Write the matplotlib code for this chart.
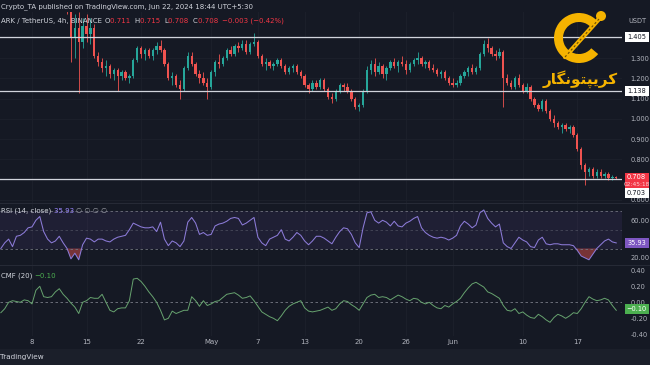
import numpy as np
import pandas as pd
import matplotlib
matplotlib.use('Agg')
import matplotlib.pyplot as plt
import matplotlib.dates as mdates
from matplotlib.patches import Wedge, Rectangle, Circle
from matplotlib.ticker import FormatStrFormatter

# ---------------- data ----------------
candle_start = '2024-04-12 00:00'   # 12h candles (approximation of the 4h chart)
opens = [1.70, 1.65, 1.55, 1.40, 1.45, 1.38, 1.46, 1.42, 1.45, 1.31,
         1.28, 1.25, 1.26, 1.22, 1.24, 1.21, 1.23, 1.20, 1.21, 1.29,
         1.35, 1.32, 1.34, 1.31, 1.34, 1.36, 1.34, 1.27, 1.20, 1.21,
         1.17, 1.15, 1.25, 1.31, 1.27, 1.22, 1.20, 1.18, 1.16, 1.23,
         1.28, 1.27, 1.30, 1.34, 1.32, 1.36, 1.35, 1.37, 1.33, 1.37,
         1.38, 1.31, 1.27, 1.28, 1.26, 1.27, 1.29, 1.26, 1.23, 1.25,
         1.26, 1.23, 1.21, 1.17, 1.15, 1.18, 1.16, 1.19, 1.15, 1.11,
         1.10, 1.14, 1.17, 1.16, 1.14, 1.10, 1.06, 1.07, 1.14, 1.24,
         1.27, 1.23, 1.26, 1.22, 1.25, 1.28, 1.26, 1.28, 1.27, 1.24,
         1.27, 1.29, 1.30, 1.27, 1.28, 1.25, 1.24, 1.22, 1.23, 1.20,
         1.18, 1.17, 1.18, 1.21, 1.23, 1.25, 1.23, 1.25, 1.32, 1.37,
         1.35, 1.32, 1.31, 1.33, 1.20, 1.18, 1.16, 1.20, 1.17, 1.14,
         1.16, 1.10, 1.07, 1.05, 1.09, 1.04, 1.00, 0.98, 0.96, 0.97,
         0.95, 0.96, 0.92, 0.85, 0.77, 0.74, 0.75, 0.72, 0.74, 0.72,
         0.73, 0.71, 0.715]
highs = [1.72, 1.72, 1.60, 1.52, 1.53, 1.50, 1.52, 1.50, 1.47, 1.33,
         1.30, 1.29, 1.27, 1.25, 1.25, 1.24, 1.24, 1.22, 1.30, 1.36,
         1.36, 1.35, 1.35, 1.35, 1.38, 1.39, 1.35, 1.28, 1.23, 1.22,
         1.19, 1.26, 1.33, 1.33, 1.28, 1.24, 1.23, 1.20, 1.24, 1.29,
         1.32, 1.31, 1.35, 1.36, 1.37, 1.38, 1.39, 1.39, 1.38, 1.425,
         1.39, 1.32, 1.30, 1.29, 1.28, 1.30, 1.30, 1.27, 1.26, 1.27,
         1.27, 1.24, 1.22, 1.18, 1.19, 1.19, 1.20, 1.20, 1.16, 1.13,
         1.15, 1.18, 1.18, 1.18, 1.15, 1.11, 1.08, 1.15, 1.26, 1.29,
         1.30, 1.28, 1.27, 1.26, 1.29, 1.30, 1.29, 1.31, 1.29, 1.28,
         1.30, 1.33, 1.31, 1.29, 1.29, 1.27, 1.25, 1.24, 1.24, 1.21,
         1.20, 1.19, 1.22, 1.24, 1.26, 1.27, 1.26, 1.33, 1.39, 1.40,
         1.36, 1.34, 1.35, 1.34, 1.22, 1.19, 1.21, 1.22, 1.18, 1.18,
         1.17, 1.11, 1.08, 1.10, 1.10, 1.05, 1.02, 0.99, 0.98, 0.98,
         0.97, 0.97, 0.93, 0.86, 0.78, 0.76, 0.76, 0.75, 0.75, 0.74,
         0.74, 0.725, 0.72]
lows = [1.60, 1.52, 1.28, 1.30, 1.128, 1.35, 1.38, 1.37, 1.30, 1.26,
        1.23, 1.21, 1.20, 1.19, 1.14, 1.19, 1.19, 1.18, 1.20, 1.28,
        1.30, 1.29, 1.30, 1.29, 1.32, 1.33, 1.26, 1.19, 1.17, 1.16,
        1.10, 1.14, 1.24, 1.26, 1.21, 1.18, 1.17, 1.10, 1.15, 1.21,
        1.25, 1.26, 1.29, 1.31, 1.31, 1.33, 1.34, 1.32, 1.32, 1.36,
        1.30, 1.26, 1.24, 1.25, 1.24, 1.26, 1.25, 1.22, 1.22, 1.23,
        1.22, 1.20, 1.16, 1.13, 1.14, 1.15, 1.15, 1.14, 1.10, 1.078,
        1.09, 1.13, 1.14, 1.13, 1.09, 1.05, 1.04, 1.06, 1.13, 1.22,
        1.21, 1.22, 1.20, 1.19, 1.24, 1.25, 1.23, 1.26, 1.22, 1.23,
        1.26, 1.27, 1.26, 1.25, 1.24, 1.23, 1.21, 1.20, 1.19, 1.17,
        1.16, 1.16, 1.17, 1.20, 1.21, 1.22, 1.22, 1.24, 1.31, 1.33,
        1.31, 1.29, 1.30, 1.06, 1.17, 1.15, 1.15, 1.16, 1.13, 1.13,
        1.09, 1.06, 1.04, 1.04, 1.03, 0.99, 0.96, 0.95, 0.93, 0.94,
        0.93, 0.91, 0.84, 0.75, 0.673, 0.72, 0.71, 0.71, 0.71, 0.71,
        0.70, 0.70, 0.705]
closes = [1.65, 1.55, 1.40, 1.45, 1.38, 1.46, 1.42, 1.45, 1.31, 1.28,
          1.25, 1.26, 1.22, 1.24, 1.21, 1.23, 1.20, 1.21, 1.29, 1.35,
          1.32, 1.34, 1.31, 1.34, 1.36, 1.34, 1.27, 1.20, 1.21, 1.17,
          1.15, 1.25, 1.31, 1.27, 1.22, 1.20, 1.18, 1.16, 1.23, 1.28,
          1.27, 1.30, 1.34, 1.32, 1.36, 1.35, 1.37, 1.33, 1.37, 1.38,
          1.31, 1.27, 1.28, 1.26, 1.27, 1.29, 1.26, 1.23, 1.25, 1.26,
          1.23, 1.21, 1.17, 1.15, 1.18, 1.16, 1.19, 1.15, 1.11, 1.10,
          1.14, 1.17, 1.16, 1.14, 1.10, 1.06, 1.07, 1.14, 1.24, 1.27,
          1.23, 1.26, 1.22, 1.25, 1.28, 1.26, 1.28, 1.27, 1.24, 1.27,
          1.29, 1.30, 1.27, 1.28, 1.25, 1.24, 1.22, 1.23, 1.20, 1.18,
          1.17, 1.18, 1.21, 1.23, 1.25, 1.23, 1.25, 1.32, 1.37, 1.35,
          1.32, 1.31, 1.33, 1.20, 1.18, 1.16, 1.20, 1.17, 1.14, 1.16,
          1.10, 1.07, 1.05, 1.09, 1.04, 1.00, 0.98, 0.96, 0.97, 0.95,
          0.96, 0.92, 0.85, 0.77, 0.74, 0.75, 0.72, 0.74, 0.72, 0.73,
          0.71, 0.715, 0.708]

ind_start = '2024-04-04 00:00'      # indicator samples every 12h
rsi = [30, 36, 40, 32, 43, 44, 47, 52, 53, 60,
       64, 48, 40, 36, 38, 43, 36, 30, 19, 25,
       18, 34, 41, 40, 37, 40, 40, 38, 37, 40,
       42, 43, 44, 50, 57, 55, 53, 52, 52, 53,
       48, 58, 40, 33, 38, 36, 32, 38, 58, 63,
       57, 45, 47, 44, 45, 54, 56, 57, 59, 62,
       63, 62, 55, 57, 60, 63, 42, 36, 33, 40,
       42, 44, 50, 40, 38, 42, 47, 44, 38, 34,
       38, 43, 43, 41, 38, 35, 42, 48, 52, 51,
       45, 36, 31, 52, 68, 69, 60, 57, 60, 58,
       54, 59, 54, 53, 57, 59, 62, 64, 52, 47,
       44, 42, 41, 42, 41, 39, 41, 44, 54, 59,
       56, 52, 55, 68, 71, 62, 57, 53, 56, 36,
       32, 30, 36, 42, 39, 37, 32, 31, 39, 42,
       35, 34, 35, 35, 34, 34, 34, 33, 28, 22,
       20, 18, 24, 30, 34, 38, 40, 37, 35.93]
cmf = [-0.13, -0.08, 0.0, 0.02, 0.01, 0.0, 0.03, 0.02, -0.02, 0.15,
       0.2, 0.07, 0.06, 0.07, 0.13, 0.17, 0.1, 0.05, -0.01, -0.06,
       -0.14, 0.0, 0.02, 0.06, 0.05, 0.05, 0.1, 0.0, -0.1, -0.12,
       -0.08, -0.07, -0.07, 0.02, 0.29, 0.3, 0.26, 0.2, 0.13, 0.07,
       0.0, -0.1, -0.22, -0.2, -0.11, -0.14, -0.12, -0.1, -0.1, 0.07,
       0.02, -0.05, 0.02, -0.04, -0.02, 0.01, 0.02, 0.06, 0.1, 0.11,
       0.12, 0.09, 0.05, 0.06, 0.08, 0.02, -0.05, -0.12, -0.15, -0.18,
       -0.2, -0.23, -0.17, -0.1, -0.05, -0.02, 0.0, 0.02, -0.07, -0.11,
       -0.12, -0.11, -0.1, -0.08, -0.06, -0.1, -0.08, -0.02, 0.02, 0.01,
       -0.03, -0.06, -0.1, -0.02, 0.06, 0.09, 0.1, 0.06, 0.07, 0.06,
       0.03, 0.06, 0.09, 0.07, 0.04, 0.02, 0.05, 0.04, 0.0, -0.02,
       0.0, -0.04, -0.07, -0.08, -0.04, -0.06, -0.02, 0.01, 0.05, 0.12,
       0.18, 0.23, 0.25, 0.22, 0.19, 0.13, 0.11, 0.08, 0.05, -0.04,
       -0.1, -0.11, -0.08, -0.14, -0.12, -0.16, -0.19, -0.2, -0.15, -0.18,
       -0.22, -0.25, -0.19, -0.15, -0.17, -0.2, -0.17, -0.13, -0.14, -0.08,
       0.0, 0.07, 0.04, 0.02, 0.03, 0.05, 0.03, -0.04, -0.10]

levels = [1.405, 1.138, 0.703]
last_price = 0.708
price_ticks = [0.6, 0.8, 0.9, 1.0, 1.1, 1.2, 1.3]      # 0.700 / 1.400 hidden under labels
price_grid = [0.6, 0.7, 0.8, 0.9, 1.0, 1.1, 1.2, 1.3, 1.4]
rsi_ticks = [20, 60]                                    # 40.00 hidden under the value label
cmf_ticks = [-0.4, -0.2, 0.0, 0.2, 0.4]
date_ticks = ['2024-04-08', '2024-04-15', '2024-04-22', '2024-05-01', '2024-05-07',
              '2024-05-13', '2024-05-20', '2024-05-26', '2024-06-01', '2024-06-10',
              '2024-06-17']
date_labels = ['8', '15', '22', 'May', '7', '13', '20', '26', 'Jun', '10', '17']

# ---------------- style ----------------
BG = '#151924'
GRID = '#1d212c'
TXT = '#b2b5be'
UP, DOWN = '#26a69a', '#ef5350'
GOLD = '#f5b300'

W, H = 650, 365
fig = plt.figure(figsize=(6.5, 3.65), dpi=100, facecolor=BG)


def fax(x0, y0, x1, y1):
    ax = fig.add_axes([x0 / W, 1 - y1 / H, (x1 - x0) / W, (y1 - y0) / H])
    ax.set_facecolor(BG)
    for s in ax.spines.values():
        s.set_visible(False)
    return ax


axp = fax(0, 12, 622, 203)
axr = fax(0, 203, 622, 265)
axc = fax(0, 265, 622, 336)

t_c = mdates.date2num(pd.date_range(candle_start, periods=len(closes), freq='12h'))
t_i = mdates.date2num(pd.date_range(ind_start, periods=len(rsi), freq='12h'))
ticks = mdates.date2num(pd.to_datetime(date_ticks))
x0 = ticks[0]
xl, xr = x0 - 32 / 7.79, x0 + 590 / 7.79

o = np.array(opens); h = np.array(highs); l = np.array(lows); c = np.array(closes)
cols = np.where(c >= o, UP, DOWN)

for ax in (axp, axr, axc):
    ax.set_xlim(xl, xr)
    ax.set_xticks(ticks)
    ax.grid(axis='x', color=GRID, lw=0.6)
    ax.set_axisbelow(True)
    ax.yaxis.tick_right()
    ax.tick_params(axis='y', length=0, pad=6, labelsize=4.8, labelcolor=TXT)
    ax.tick_params(axis='x', length=0)

# price pane
axp.set_ylim(0.5843, 1.5286)
for g in price_grid:
    axp.axhline(g, color=GRID, lw=0.6, zorder=0)
axp.set_yticks(price_ticks)
axp.yaxis.set_major_formatter(FormatStrFormatter('%.3f'))
axp.set_xticklabels([])
axp.vlines(t_c, l, h, colors=cols, lw=0.6, zorder=2)
axp.bar(t_c, np.maximum(np.abs(c - o), 0.003), bottom=np.minimum(o, c), width=0.3,
        color=cols, zorder=3, linewidth=0)
for lv in levels:
    axp.axhline(lv, color='#d1d4dc', lw=0.9, zorder=4)

# RSI pane
r = np.array(rsi)
axr.set_ylim(12.45, 78.4)
axr.set_yticks(rsi_ticks)
axr.yaxis.set_major_formatter(FormatStrFormatter('%.2f'))
axr.set_xticklabels([])
axr.axhspan(30, 70, color='#7e57c2', alpha=0.10, lw=0)
for lv, a in ((70, 0.9), (50, 0.45), (30, 0.9)):
    axr.axhline(lv, color='#787b86', lw=0.6, ls=(0, (3, 3)), alpha=a)
axr.fill_between(t_i, r, 30, where=r < 30, interpolate=True, color='#ef5350', alpha=0.45, lw=0)
axr.fill_between(t_i, r, 70, where=r > 70, interpolate=True, color='#26a69a', alpha=0.45, lw=0)
axr.plot(t_i, r, color='#8c7bd8', lw=0.75)

# CMF pane
axc.set_ylim(-0.421, 0.466)
axc.set_yticks(cmf_ticks)
axc.yaxis.set_major_formatter(FormatStrFormatter('%.2f'))
axc.axhline(0, color='#787b86', lw=0.6, ls=(0, (3, 3)))
axc.plot(t_i, cmf, color='#67a36f', lw=0.7)
axc.set_xticklabels(date_labels)
axc.tick_params(axis='x', pad=2.5, labelsize=5, labelcolor=TXT)

# ---------------- overlay (pixel coordinates) ----------------
ov = fig.add_axes([0, 0, 1, 1])
ov.set_xlim(0, W); ov.set_ylim(H, 0); ov.axis('off')
ov.patch.set_alpha(0)
renderer = fig.canvas.get_renderer()


def seq_text(x, y, parts, size=5, gap=0.0):
    for s, col in parts:
        t = ov.text(x, y, s, color=col, fontsize=size, va='center', ha='left')
        x += t.get_window_extent(renderer).width + gap
    return x


for yy in (203, 265):
    ov.plot([0, 650], [yy, yy], color='#262a36', lw=0.8)
ov.add_patch(Rectangle((0, 349), 650, 16, color='#1b1f2a', lw=0))
ov.text(0.5, 357, 'TradingView', fontsize=5.2, color='#d1d4dc', va='center')

ov.text(1, 6.5, 'Crypto_TA published on TradingView.com, Jun 22, 2024 18:44 UTC+5:30',
        fontsize=5, color='#d1d4dc', va='center')
RED = '#f23645'
seq_text(1, 21, [('ARK / TetherUS, 4h, BINANCE ', '#d1d4dc'), ('O', '#d1d4dc'),
                 ('0.711  ', RED), ('H', '#d1d4dc'), ('0.715  ', RED), ('L', '#d1d4dc'),
                 ('0.708  ', RED), ('C', '#d1d4dc'), ('0.708  ', RED),
                 ('\u22120.003 (\u22120.42%)', RED)], size=5)
seq_text(1, 210.7, [('RSI (14, close) ', '#d1d4dc'), ('35.93 ', '#9c88ff'),
                    ('\u2205 \u2205 \u2205 \u2205', '#9598a1')], size=5)
seq_text(1, 276, [('CMF (20) ', '#d1d4dc'), ('\u22120.10', '#4caf50')], size=5)

ov.text(637, 21, 'USDT', fontsize=4.8, color=TXT, ha='center', va='center')


def box(yc, text, fc, tc, h=10):
    ov.add_patch(Rectangle((624.5, yc - h / 2), 24, h, color=fc, lw=0))
    ov.text(636.5, yc, text, fontsize=4.8, color=tc, ha='center', va='center')


box(37, '1.405', '#ffffff', '#131722')
box(91, '1.138', '#ffffff', '#131722')
ov.add_patch(Rectangle((624.5, 173), 24, 15, color=RED, lw=0))
ov.text(636.5, 177.3, '0.708', fontsize=4.8, color='white', ha='center', va='center')
ov.text(636.5, 184.3, '02:45:18', fontsize=4.2, color='#ffd0d4', ha='center', va='center')
box(193, '0.703', '#ffffff', '#131722')
box(243, '35.93', '#7e57c2', 'white')
box(309, '\u22120.10', '#4caf50', 'white')

# watermark logo
ov.add_patch(Wedge((579, 38), 25, 40, 320, width=9, color=GOLD, lw=0))
ov.plot([565, 599], [57, 19], color=GOLD, lw=3.2, solid_capstyle='round')
ov.plot([565, 599], [57, 19], color='#6b4d00', lw=0.8, ls=(0, (2, 2)))
ov.add_patch(Circle((601, 16), 5, color=GOLD, lw=0))
persian = '\uFEAD\uFE8E\uFB95\uFEE7\uFEEE\uFE98\uFB59\uFBFE\uFEAE\uFB90'
ov.text(580, 79, persian, fontsize=11, color=GOLD, ha='center', va='center',
        family='DejaVu Sans', fontweight='bold')

fig.savefig('out.png', dpi=100, facecolor=BG)
